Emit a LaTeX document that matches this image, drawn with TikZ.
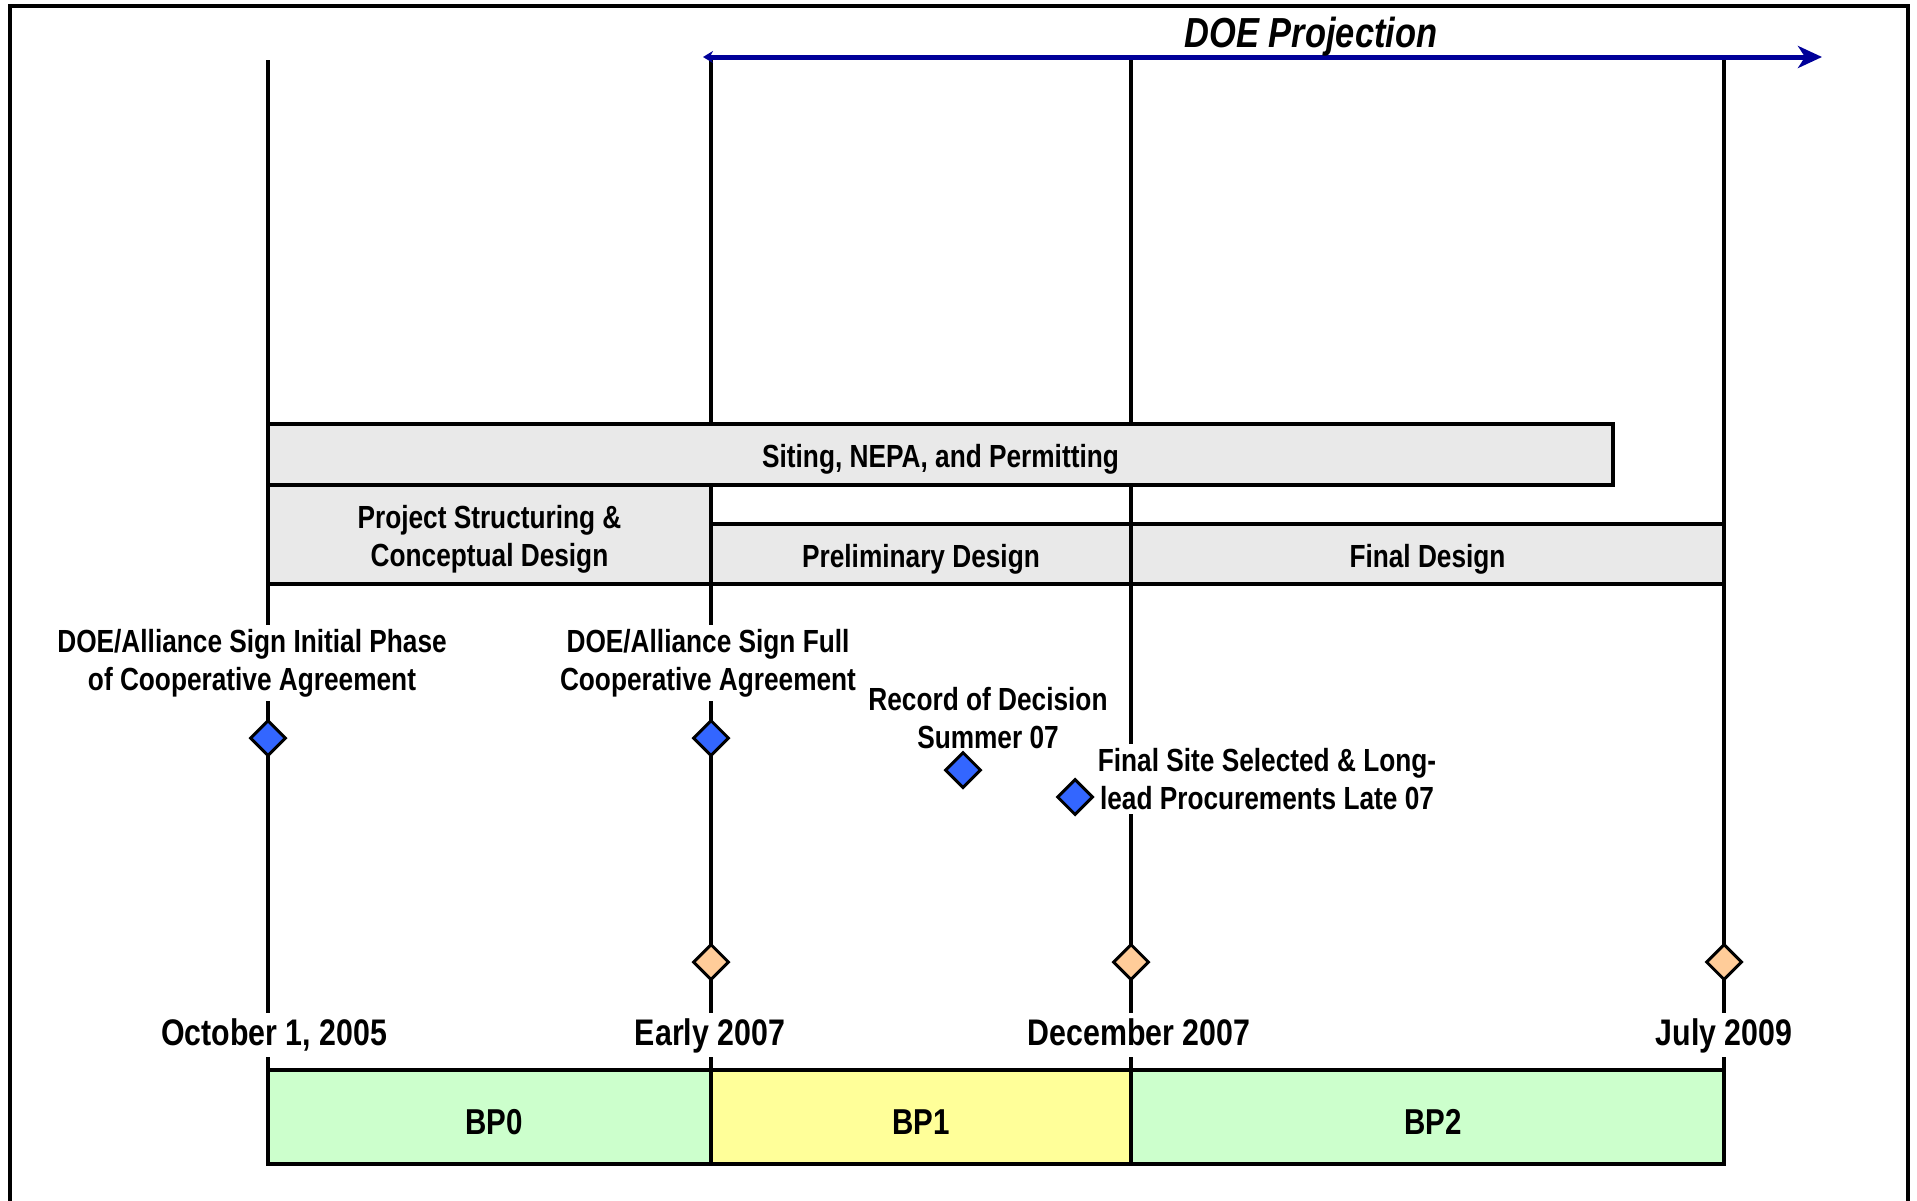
\documentclass[tikz,border=0pt]{standalone}
\usepackage{fontspec}
\setmainfont{Liberation Sans}[FakeStretch=0.82]
\usetikzlibrary{shapes.geometric,arrows.meta}
\definecolor{boxgray}{RGB}{233,233,233}
\definecolor{bpgreen}{RGB}{204,255,204}
\definecolor{bpyellow}{RGB}{255,255,153}
\definecolor{msblue}{RGB}{51,102,255}
\definecolor{msorange}{RGB}{255,204,153}
\definecolor{doeblue}{RGB}{0,0,153}
\tikzset{
  vline/.style={line width=3.5pt, black},
  gbox/.style={draw, line width=4pt, fill=boxgray, inner sep=0pt},
  boxtxt/.style={inner sep=0pt, align=center, font=\fontsize{32}{38}\selectfont\bfseries},
  bpbox/.style={draw, line width=4pt, inner sep=0pt, minimum height=94pt},
  bptxt/.style={inner sep=0pt, font=\fontsize{36}{40}\selectfont\bfseries},
  lab/.style={fill=white, inner xsep=2pt, inner ysep=4pt, align=center, font=\fontsize{32}{38}\selectfont\bfseries},
  datelab/.style={fill=white, anchor=base, inner xsep=2pt, inner ysep=4pt, text height=28pt, text depth=8pt, font=\fontsize{37}{40}\selectfont\bfseries},
  bluems/.style={diamond, draw, line width=3pt, fill=msblue, minimum width=36pt, minimum height=36pt, inner sep=0pt},
  orangems/.style={diamond, draw, line width=3pt, fill=msorange, minimum width=36pt, minimum height=36pt, inner sep=0pt},
}
\begin{document}
\begin{tikzpicture}[x=1pt,y=-1pt]
\useasboundingbox (0,0) rectangle (1917,1200);
% frame (open at the bottom)
\draw[line width=4.5pt] (10,1210) -- (10,6) -- (1908,6) -- (1908,1210);

% top ends of the time lines
\coordinate (t0) at (268,60);
\coordinate (t1) at (711,57);
\coordinate (t2) at (1131,57);
\coordinate (t3) at (1724,57);
\coordinate (b0) at (268,1070);
\coordinate (b1) at (711,1070);
\coordinate (b2) at (1131,1070);
\coordinate (b3) at (1724,1070);

% vertical time lines
\draw[vline] (t0) -- (b0);
\draw[vline] (t1) -- (b1);
\draw[vline] (t2) -- (b2);
\draw[vline] (t3) -- (b3);

% DOE projection arrow
\coordinate (a0) at (703,57);
\coordinate (a1) at (1822,57);
\draw[doeblue, line width=5pt, {Stealth[length=10pt,width=12pt]}-{Stealth[length=24pt,width=22pt,inset=7pt]}] (a0) -- (a1);
\node[font=\fontsize{42}{46}\selectfont\bfseries\itshape] (doe) at (1311,37) {DOE Projection};

% activity boxes
\node[gbox, minimum width=1345pt, minimum height=61pt] (siting) at (940.5,454.5) {};
\node[gbox, minimum width=443pt, minimum height=99pt] (proj) at (489.5,534.5) {};
\node[gbox, minimum width=420pt, minimum height=60pt] (prelim) at (921,554) {};
\node[gbox, minimum width=593pt, minimum height=60pt] (final) at (1427.5,554) {};
\node[boxtxt] (sitingtxt) at ([yshift=-5pt]siting.center) {Siting, NEPA, and Permitting};
\node[boxtxt] (projtxt) at ([yshift=-5pt]proj.center) {Project Structuring \&\\Conceptual Design};
\node[boxtxt] (prelimtxt) at ([yshift=-5pt]prelim.center) {Preliminary Design};
\node[boxtxt] (finaltxt) at ([yshift=-5pt]final.center) {Final Design};

% budget period boxes
\node[bpbox, fill=bpgreen, minimum width=443pt] (bp0) at (489.5,1117) {};
\node[bpbox, fill=bpyellow, minimum width=420pt] (bp1) at (921,1117) {};
\node[bpbox, fill=bpgreen, minimum width=593pt] (bp2) at (1427.5,1117) {};
\node[bptxt] (bp0txt) at (494,1122) {BP0};
\node[bptxt] (bp1txt) at (921,1122) {BP1};
\node[bptxt] (bp2txt) at (1433,1122) {BP2};

% milestone labels
\node[lab] (l1) at (252,663) {DOE/Alliance Sign Initial Phase\\of Cooperative Agreement};
\node[lab] (l2) at (708,663) {DOE/Alliance Sign Full\\Cooperative Agreement};
\node[lab] (l3) at (988,718) {Record of Decision\\Summer 07};
\node[lab] (l4) at (1267,779) {Final Site Selected \& Long-\\lead Procurements Late 07};

% blue milestones
\node[bluems] (m1) at (268,738) {};
\node[bluems] (m2) at (711,738) {};
\node[bluems] (m3) at (963,770) {};
\node[bluems] (m4) at (1075,797) {};

% orange milestones
\node[orangems] (o1) at (711,962) {};
\node[orangems] (o2) at (1131,962) {};
\node[orangems] (o3) at (1724,962) {};

% dates
\node[datelab] (d0) at (274,1045) {October 1, 2005};
\node[datelab] (d1) at (710,1045) {Early 2007};
\node[datelab] (d2) at (1139,1045) {December 2007};
\node[datelab] (d3) at (1724,1045) {July 2009};
\end{tikzpicture}
\end{document}
